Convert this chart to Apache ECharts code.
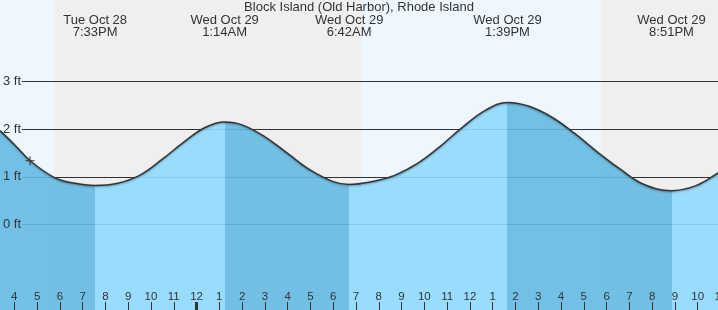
<!DOCTYPE html>
<html><head><meta charset="utf-8">
<script src="https://cdn.jsdelivr.net/npm/echarts@6/dist/echarts.min.js"></script>
<style>html,body{margin:0;padding:0;background:#fff}#c{width:718px;height:310px}</style>
</head><body><div id="c"></div>
<script>
const chartTitle = 'Block Island (Old Harbor), Rhode Island';
// x values: hours since 4 PM, Tue Oct 28
const tideHours = [-0.63, 0, 0.69, 1.74, 2.6, 3.55, 4.5, 5.5, 6.5, 7.5, 8.4, 9.2333, 10, 11, 12, 13, 14, 14.7, 15.7, 16.7, 17.7, 18.7, 19.7, 20.7, 21.65, 22.6, 23.6, 24.6, 25.6, 26.6, 27.6, 28.85, 29.9, 30.9, 31.6];
const tideFeet  = [1.97, 1.68, 1.34, 0.99, 0.87, 0.82, 0.86, 1.03, 1.37, 1.75, 2.04, 2.15, 2.09, 1.84, 1.49, 1.14, 0.90, 0.84, 0.90, 1.03, 1.28, 1.64, 2.05, 2.40, 2.56, 2.48, 2.25, 1.91, 1.52, 1.16, 0.85, 0.71, 0.81, 1.08, 1.28];
const extremeHours = [3.55, 9.2333, 14.7, 21.65, 28.85];
const extremeTypes = ['low', 'high', 'low', 'high', 'low'];
const extremeLabels = ['Tue Oct 28\n7:33PM', 'Wed Oct 29\n1:14AM', 'Wed Oct 29\n6:42AM', 'Wed Oct 29\n1:39PM', 'Wed Oct 29\n8:51PM'];
const nightBands = [[1.74, 15.25], [25.75, 32]];
const midnightHours = [8];
const nowPoint = [0.69, 1.34];
const yLabelValues = [0, 1, 2, 3];
const yLineValues = [0, 1, 2, 3];
const startClockHour = 16;
const xMin = -1, xMax = 32, yMin = -2, yMax = 5;

const FONT = "'Liberation Sans', Arial, sans-serif";
const TEXT = '#333';
const DARK = 'rgb(100,186,227)';
const LIGHT = 'rgb(143,218,255)';

const tideData = tideHours.map((h, i) => [h, tideFeet[i]]);

const splitColors = [];
for (let v = yMin; v <= yMax; v++) splitColors.push(yLineValues.includes(v) ? '#333' : 'rgba(0,0,0,0)');

const bounds = [-Infinity].concat(extremeHours, [Infinity]);
const pieces = [];
for (let i = 0; i < bounds.length - 1; i++) {
  const falling = extremeTypes[i] === 'low';
  const p = { color: falling ? DARK : LIGHT };
  if (bounds[i] !== -Infinity) p.gte = bounds[i];
  if (bounds[i + 1] !== Infinity) p.lt = bounds[i + 1];
  pieces.push(p);
}

const clock = v => String(((startClockHour + v) % 12 + 12) % 12 || 12);

const plotGrid = { left: -8.48, right: -25.26, top: -13.8, bottom: -9.8, outerBoundsMode: 'none', containLabel: false };
const frameGrid = { left: -8.48, right: -25.26, top: 0, bottom: 0, outerBoundsMode: 'none', containLabel: false };

const chart = echarts.init(document.getElementById('c'), null, { renderer: 'canvas' });
chart.setOption({
  animation: false,
  backgroundColor: '#eef7fe',
  textStyle: { fontFamily: FONT },
  title: { text: chartTitle, left: 'center', top: 1, padding: 0,
    textStyle: { fontSize: 13, fontWeight: 'normal', color: TEXT, fontFamily: FONT } },
  grid: [
    { left: 22, right: 0, top: plotGrid.top, bottom: plotGrid.bottom, outerBoundsMode: 'none', containLabel: false },
    plotGrid,
    frameGrid,
    frameGrid,
    frameGrid
  ],
  xAxis: [
    { gridIndex: 0, type: 'value', min: xMin, max: xMax, show: false },
    { gridIndex: 1, type: 'value', min: xMin, max: xMax, show: false },
    { gridIndex: 2, type: 'value', min: xMin, max: xMax, interval: 1, position: 'bottom', z: 10,
      axisLine: { show: false }, splitLine: { show: false },
      axisTick: { inside: true, length: 8, lineStyle: { color: TEXT, width: 1 } },
      axisLabel: { inside: true, margin: 7, color: TEXT, fontSize: 11.5, fontFamily: FONT, formatter: v => clock(v) } },
    { gridIndex: 3, type: 'value', min: xMin, max: xMax, position: 'top', z: 10,
      axisLine: { show: false }, splitLine: { show: false }, axisTick: { show: false },
      axisLabel: { inside: true, margin: 14, customValues: extremeHours, color: TEXT, fontSize: 13, lineHeight: 12, fontFamily: FONT,
        formatter: v => { const i = extremeHours.indexOf(v); return i >= 0 ? extremeLabels[i] : ''; } } },
    { gridIndex: 4, type: 'value', min: xMin, max: xMax, position: 'bottom', z: 11,
      axisLine: { show: false }, splitLine: { show: false }, axisLabel: { show: false },
      axisTick: { inside: true, length: 8, customValues: midnightHours, lineStyle: { color: TEXT, width: 3 } } }
  ],
  yAxis: [
    { gridIndex: 0, type: 'value', min: yMin, max: yMax, interval: 1, z: 1,
      axisLine: { show: false }, axisTick: { show: false }, axisLabel: { show: false },
      splitLine: { show: true, lineStyle: { color: splitColors, width: 1 } } },
    { gridIndex: 1, type: 'value', min: yMin, max: yMax, interval: 1, z: 10,
      axisLine: { show: false }, axisTick: { show: false }, splitLine: { show: false },
      axisLabel: { inside: true, margin: 11.5, color: TEXT, fontSize: 13, fontFamily: FONT,
        formatter: v => yLabelValues.includes(v) ? v + ' ft' : '' } },
    { gridIndex: 2, type: 'value', min: 0, max: 1, show: false },
    { gridIndex: 3, type: 'value', min: 0, max: 1, show: false },
    { gridIndex: 4, type: 'value', min: 0, max: 1, show: false }
  ],
  visualMap: { type: 'piecewise', show: false, seriesIndex: 1, dimension: 0, pieces: pieces },
  series: [
    { type: 'line', xAxisIndex: 1, yAxisIndex: 1, z: 0, silent: true, data: [[xMin, yMin]],
      showSymbol: false, lineStyle: { opacity: 0 },
      markArea: { silent: true, z: 0, itemStyle: { color: '#efefef' },
        data: nightBands.map(b => [{ xAxis: b[0] }, { xAxis: b[1] }]) } },
    { type: 'line', xAxisIndex: 1, yAxisIndex: 1, z: 2, data: tideData, smooth: 0.4,
      showSymbol: false, lineStyle: { width: 0 }, areaStyle: { opacity: 0.9, origin: 'start' } },
    { type: 'line', xAxisIndex: 1, yAxisIndex: 1, z: 3, data: tideData, smooth: 0.4,
      showSymbol: false,
      lineStyle: { color: '#333', width: 1.5, shadowBlur: 2, shadowColor: 'rgba(0,0,0,0.35)', shadowOffsetY: 1 } },
    { type: 'scatter', xAxisIndex: 1, yAxisIndex: 1, z: 4, data: [nowPoint],
      symbol: 'path://M4.3,0h1.4v4.3h4.3v1.4h-4.3v4.3h-1.4v-4.3h-4.3v-1.4h4.3z', symbolSize: 9,
      itemStyle: { color: '#333' } }
  ]
});
</script></body></html>
